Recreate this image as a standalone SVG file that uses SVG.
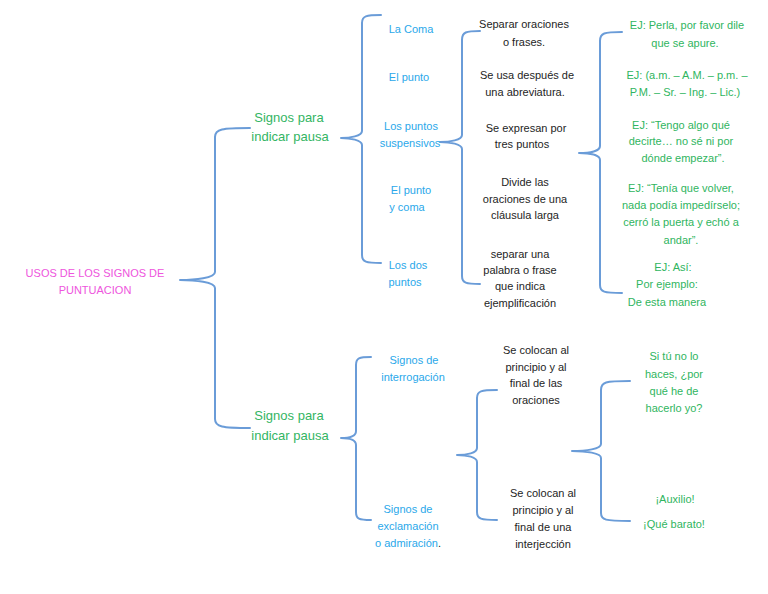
<svg xmlns="http://www.w3.org/2000/svg" width="768" height="594" viewBox="0 0 768 594">
<style>
text{font-family:"Liberation Sans",Arial,sans-serif;text-anchor:middle}
.pink{fill:#ee55dd;font-size:11px}
.lab{fill:#33b563;font-size:13px}
.blue{fill:#2aa8ea;font-size:11px}
.blk{fill:#1e1e1e;font-size:11px}
.grn{fill:#2fb560;font-size:11px}
.brace{fill:none;stroke:#6a9cd8;stroke-width:2;stroke-linecap:round;stroke-linejoin:round}
</style>
<rect width="768" height="594" fill="#ffffff"/>
<g id="connectors">
<path class="brace" d="M250,128 C222,128 215,129 215,137 L215,272 C215,278 195,280 180,280 C195,280 215,282 215,288 L215,419 C215,427 222,428 250,428"/>
<path class="brace" d="M381,15 C366,15 362,16 362,23 L362,131 C362,136 350,138 341,138 C350,138 362,140 362,145 L362,255 C362,262 366,263 381,263"/>
<path class="brace" d="M480,31 C466,31 462,32 462,40 L462,135 C462,140 450,142 440,142 C450,142 462,144 462,149 L462,276 C462,283 466,284 480,284"/>
<path class="brace" d="M622,32 C604,32 600,33 600,41 L600,146 C600,151 590,153 579,153 C590,153 600,155 600,160 L600,285 C600,292 604,293 622,293"/>
<path class="brace" d="M371,357 C359,357 356,358 356,365 L356,431 C356,436 349,438 341,438 C349,438 356,440 356,445 L356,512 C356,519 359,520 371,520"/>
<path class="brace" d="M497,390 C481,390 477,391 477,398 L477,448 C477,453 467,455 457,455 C467,455 477,457 477,462 L477,512 C477,519 481,520 497,520"/>
<path class="brace" d="M630,381 C605,381 601,382 601,390 L601,444 C601,449 586,451 572,451 C586,451 601,453 601,458 L601,513 C601,520 605,521 630,521"/>
</g>
<g id="root"><text class="pink" x="95" y="277">USOS DE LOS SIGNOS DE</text><text class="pink" x="95" y="294">PUNTUACION</text></g>
<g id="pausa1"><text class="lab" x="289" y="122">Signos para</text><text class="lab" x="290" y="141">indicar pausa</text></g>
<g id="pausa2"><text class="lab" x="289" y="420">Signos para</text><text class="lab" x="290" y="440">indicar pausa</text></g>
<g id="coma"><text class="blue" x="411" y="33">La Coma</text></g>
<g id="punto"><text class="blue" x="409" y="81">El punto</text></g>
<g id="suspensivos"><text class="blue" x="411" y="130">Los puntos</text><text class="blue" x="410" y="147">suspensivos</text></g>
<g id="puntocoma"><text class="blue" x="411" y="194">El punto</text><text class="blue" x="407" y="211">y coma</text></g>
<g id="dospuntos"><text class="blue" x="408" y="269">Los dos</text><text class="blue" x="405" y="286">puntos</text></g>
<g id="interrogacion"><text class="blue" x="414" y="364">Signos de</text><text class="blue" x="413" y="381">interrogación</text></g>
<g id="exclamacion"><text class="blue" x="408" y="513">Signos de</text><text class="blue" x="408" y="530">exclamación</text><text class="blue" x="408" y="547">o admiración<tspan fill="#1e1e1e">.</tspan></text></g>
<g id="d1"><text class="blk" x="524" y="28">Separar oraciones</text><text class="blk" x="524" y="46">o frases.</text></g>
<g id="d2"><text class="blk" x="527" y="79">Se usa después de</text><text class="blk" x="525" y="96">una abreviatura.</text></g>
<g id="d3"><text class="blk" x="526" y="132">Se expresan por</text><text class="blk" x="522" y="148">tres puntos</text></g>
<g id="d4"><text class="blk" x="525" y="186">Divide las</text><text class="blk" x="525" y="203">oraciones de una</text><text class="blk" x="525" y="219">cláusula larga</text></g>
<g id="d5"><text class="blk" x="520" y="258">separar una</text><text class="blk" x="520" y="274">palabra o frase</text><text class="blk" x="520" y="290">que indica</text><text class="blk" x="520" y="307">ejemplificación</text></g>
<g id="d6"><text class="blk" x="536" y="354">Se colocan al</text><text class="blk" x="536" y="371">principio y al</text><text class="blk" x="536" y="387">final de las</text><text class="blk" x="536" y="404">oraciones</text></g>
<g id="d7"><text class="blk" x="543" y="497">Se colocan al</text><text class="blk" x="543" y="514">principio y al</text><text class="blk" x="543" y="531">final de una</text><text class="blk" x="543" y="548">interjección</text></g>
<g id="e1"><text class="grn" x="687" y="29">EJ: Perla, por favor dile</text><text class="grn" x="685" y="47">que se apure.</text></g>
<g id="e2"><text class="grn" x="687" y="79">EJ: (a.m. – A.M. – p.m. –</text><text class="grn" x="685" y="96">P.M. – Sr. – Ing. – Lic.)</text></g>
<g id="e3"><text class="grn" x="681" y="129">EJ: “Tengo algo qué</text><text class="grn" x="681" y="145">decirte… no sé ni por</text><text class="grn" x="683" y="162">dónde empezar”.</text></g>
<g id="e4"><text class="grn" x="681" y="192">EJ: “Tenía que volver,</text><text class="grn" x="681" y="209">nada podía impedírselo;</text><text class="grn" x="681" y="226">cerró la puerta y echó a</text><text class="grn" x="681" y="244">andar”.</text></g>
<g id="e5"><text class="grn" x="673" y="271">EJ: Así:</text><text class="grn" x="667" y="288">Por ejemplo:</text><text class="grn" x="667" y="306">De esta manera</text></g>
<g id="e6"><text class="grn" x="674" y="360">Si tú no lo</text><text class="grn" x="674" y="378">haces, ¿por</text><text class="grn" x="674" y="395">qué he de</text><text class="grn" x="674" y="412">hacerlo yo?</text></g>
<g id="e7"><text class="grn" x="675" y="503">¡Auxilio!</text><text class="grn" x="674" y="528">¡Qué barato!</text></g>
</svg>
